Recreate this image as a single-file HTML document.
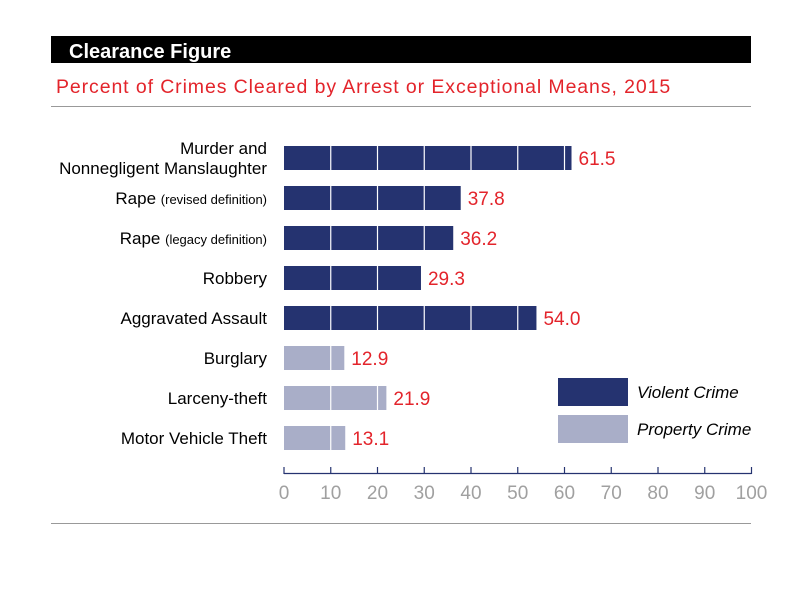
<!DOCTYPE html>
<html><head><meta charset="utf-8"><style>
body{margin:0;background:#fff;}
svg text{font-family:"Liberation Sans Narrow","Liberation Sans",sans-serif;}
</style></head><body>
<svg width="800" height="600" viewBox="0 0 800 600">
<rect x="51" y="36" width="700" height="27" fill="#000"/>
<text x="69" y="58" fill="#fff" font-size="20" font-weight="bold" style="font-family:'Liberation Sans',sans-serif">Clearance Figure</text>
<text x="56" y="93" fill="#e3242b" font-size="19.5" letter-spacing="0.9" style="font-family:'Liberation Sans',sans-serif">Percent of Crimes Cleared by Arrest or Exceptional Means, 2015</text>
<line x1="51" y1="106.5" x2="751" y2="106.5" stroke="#999"/>
<line x1="51" y1="523.5" x2="751" y2="523.5" stroke="#999"/>
<g id="plot"></g>
<rect x="558" y="378" width="70" height="28" fill="#253370"/>
<text x="637" y="398" font-size="17" font-style="italic" style="font-family:'Liberation Sans',sans-serif">Violent Crime</text>
<rect x="558" y="415" width="70" height="28" fill="#a9aec8"/>
<text x="637" y="435" font-size="17" font-style="italic" style="font-family:'Liberation Sans',sans-serif">Property Crime</text>
</svg>
<script>
const categories=["Murder and|Nonnegligent Manslaughter","Rape|(revised definition)","Rape|(legacy definition)","Robbery","Aggravated Assault","Burglary","Larceny-theft","Motor Vehicle Theft"];
const values=[61.5,37.8,36.2,29.3,54.0,12.9,21.9,13.1];
const types=["v","v","v","v","v","p","p","p"];
const ticks=[0,10,20,30,40,50,60,70,80,90,100];
const NS="http://www.w3.org/2000/svg";
const g=document.getElementById("plot");
const x0=284,x1=751.5,y0=146,step=40,bh=24;
const xs=v=>x0+(v-0)/(100-0)*(x1-x0);
function mk(t,a){const e=document.createElementNS(NS,t);for(const k in a)e.setAttribute(k,a[k]);g.appendChild(e);return e;}
values.forEach((v,i)=>{
  const y=y0+i*step;
  const r=mk("rect",{x:xs(0),y:y,width:xs(v)-xs(0),height:bh,fill:types[i]=="v"?"#253370":"#a9aec8"});
  
  
  ticks.forEach(t=>{if(t>0&&t<v){const l=mk("line",{x1:xs(t),x2:xs(t),y1:y,y2:y+bh,stroke:"#fff","stroke-width":1.2});
    
    }});
  const vt=mk("text",{x:xs(v)+7,y:y+bh/2+7,fill:"#e3242b","font-size":19});
  vt.textContent=v.toFixed(1);
  
  
  const parts=categories[i].split("|");
  const lt=mk("text",{x:267,"text-anchor":"end","font-size":17,fill:"#000"});
  
  
  if(parts.length==2&&parts[1].startsWith("(")){
    lt.setAttribute("y",y+bh/2+6);
    const a=document.createElementNS(NS,"tspan");a.textContent=parts[0]+" ";lt.appendChild(a);
    const b=document.createElementNS(NS,"tspan");b.setAttribute("font-size",13);b.textContent=parts[1];lt.appendChild(b);
  }else if(parts.length==2){
    lt.setAttribute("y",y+bh/2-4);lt.textContent=parts[0];
    const l2=mk("text",{x:267,y:y+bh/2+16,"text-anchor":"end","font-size":17});
    l2.textContent=parts[1];
    
    
  }else{lt.setAttribute("y",y+bh/2+6);lt.textContent=parts[0];}
});
const ax=mk("line",{x1:xs(0),x2:xs(100),y1:473.5,y2:473.5,stroke:"#253370","stroke-width":1.3});


ticks.forEach(t=>{
  const tk=mk("line",{x1:xs(t),x2:xs(t),y1:467,y2:474,stroke:"#253370","stroke-width":1.2});
  
  
  const tl=mk("text",{x:xs(t),y:499,"text-anchor":"middle","font-size":19,fill:"#a0a0a0"});
  tl.textContent=t;
  
  
});
</script>
</body></html>
